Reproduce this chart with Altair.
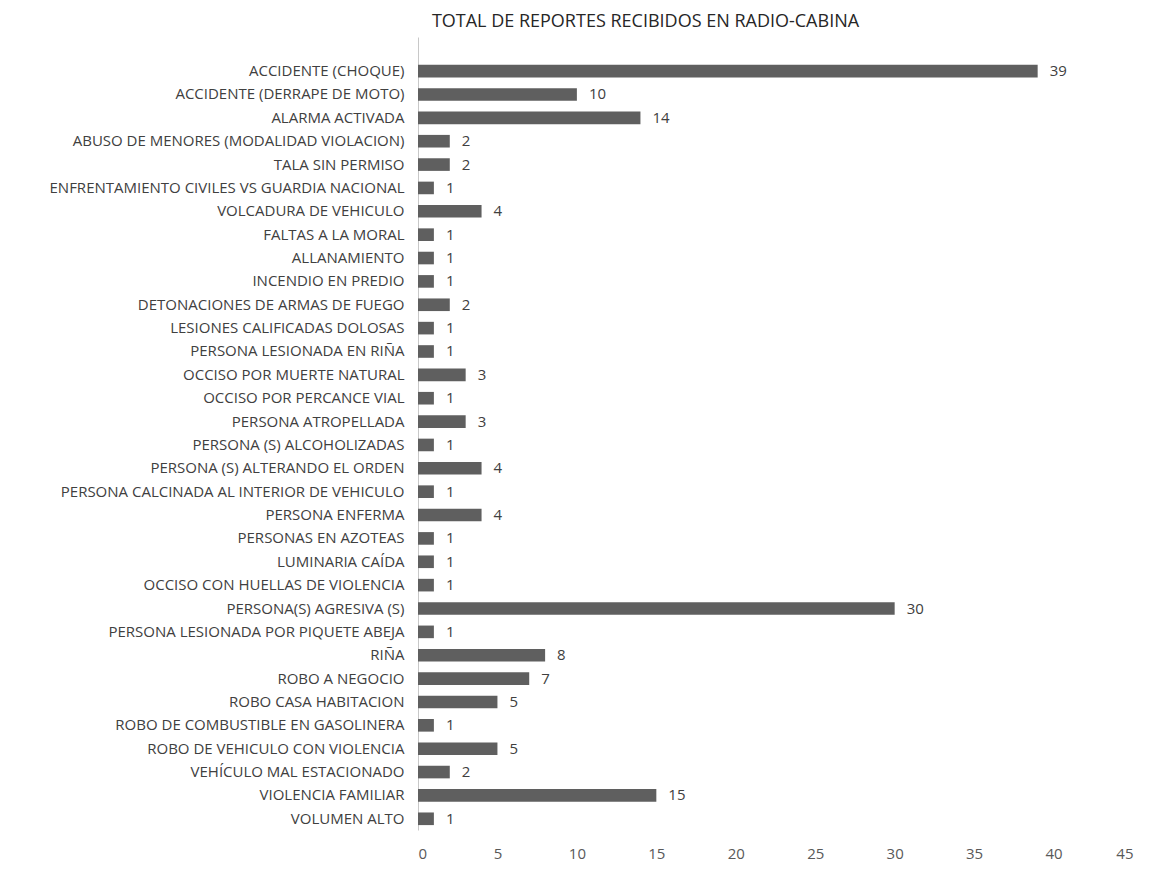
import altair as alt
import pandas as pd

categories = [
    "ACCIDENTE (CHOQUE)",
    "ACCIDENTE (DERRAPE DE MOTO)",
    "ALARMA ACTIVADA",
    "ABUSO DE MENORES (MODALIDAD VIOLACION)",
    "TALA SIN PERMISO",
    "ENFRENTAMIENTO CIVILES VS GUARDIA NACIONAL",
    "VOLCADURA DE VEHICULO",
    "FALTAS A LA MORAL",
    "ALLANAMIENTO",
    "INCENDIO EN PREDIO",
    "DETONACIONES DE ARMAS DE FUEGO",
    "LESIONES CALIFICADAS DOLOSAS",
    "PERSONA LESIONADA EN RIÑA",
    "OCCISO POR MUERTE NATURAL",
    "OCCISO POR PERCANCE VIAL",
    "PERSONA ATROPELLADA",
    "PERSONA (S) ALCOHOLIZADAS",
    "PERSONA (S) ALTERANDO EL ORDEN",
    "PERSONA CALCINADA AL INTERIOR DE VEHICULO",
    "PERSONA ENFERMA",
    "PERSONAS EN AZOTEAS",
    "LUMINARIA CAÍDA",
    "OCCISO CON HUELLAS DE VIOLENCIA",
    "PERSONA(S) AGRESIVA (S)",
    "PERSONA LESIONADA POR PIQUETE ABEJA ",
    "RIÑA",
    "ROBO A NEGOCIO",
    "ROBO CASA HABITACION",
    "ROBO DE COMBUSTIBLE EN GASOLINERA",
    "ROBO DE VEHICULO CON VIOLENCIA",
    "VEHÍCULO MAL ESTACIONADO",
    "VIOLENCIA FAMILIAR",
    "VOLUMEN ALTO",
]

values = [39, 10, 14, 2, 2, 1, 4, 1, 1, 1, 2, 1, 1, 3, 1, 3, 1, 4, 1, 4,
          1, 1, 1, 30, 1, 8, 7, 5, 1, 5, 2, 15, 1]

x_ticks = [0, 5, 10, 15, 20, 25, 30, 35, 40, 45]

title_text = "TOTAL DE REPORTES RECIBIDOS EN RADIO-CABINA"

df = pd.DataFrame({"cat": categories, "val": values})

FONT = "Open Sans"

y_enc = alt.Y(
    "cat:N",
    sort=None,
    title=None,
    scale=alt.Scale(paddingInner=0.46, paddingOuter=0.7, align=0.85),
    axis=alt.Axis(
        domain=True,
        domainColor="#c8c8c8",
        domainWidth=1,
        ticks=False,
        labelFont=FONT,
        labelFontSize=15,
        labelColor="#404040",
        labelPadding=14,
        labelLimit=600,
    ),
)

x_enc = alt.X(
    "val:Q",
    title=None,
    scale=alt.Scale(domain=[0, 45], nice=False),
    axis=alt.Axis(
        values=x_ticks,
        grid=False,
        domain=False,
        ticks=False,
        labelFont=FONT,
        labelFontSize=15,
        labelColor="#595959",
        labelPadding=16,
    ),
)

bars = alt.Chart(df).mark_bar(color="#5f5f5f").encode(x=x_enc, y=y_enc)

labels = alt.Chart(df).mark_text(
    align="left", baseline="middle", dx=12, font=FONT, fontSize=15, color="#404040"
).encode(
    x=alt.X("val:Q"),
    y=alt.Y("cat:N", sort=None),
    text=alt.Text("val:Q"),
)

chart = (
    alt.layer(bars, labels)
    .properties(
        width=715,
        height=793,
        background="white",
        autosize=alt.AutoSizeParams(type="none"),
        padding={"left": 410, "top": 29, "right": 15, "bottom": 56},
        title=alt.TitleParams(
            text=title_text,
            font=FONT,
            fontSize=18,
            fontWeight="normal",
            color="#262626",
            anchor="middle",
            frame="group",
            dx=-130,
            offset=6,
        ),
    )
    .configure_view(stroke=None, strokeWidth=0)
)

chart.save("out.html", embed_options={"renderer": "svg", "actions": False})
